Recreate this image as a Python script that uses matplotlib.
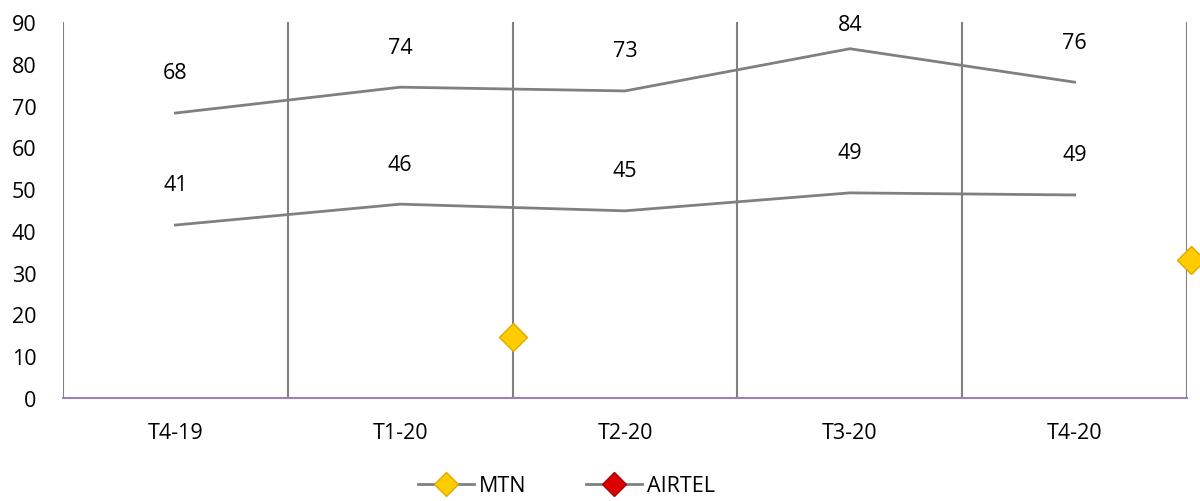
import numpy as np
import matplotlib.pyplot as plt
from matplotlib.lines import Line2D

plt.rcParams['font.family'] = ['Open Sans', 'DejaVu Sans']

quarters = ['T4-19', 'T1-20', 'T2-20', 'T3-20', 'T4-20']
mtn = [68.2, 74.4, 73.5, 83.6, 75.6]
airtel = [41.4, 46.4, 44.8, 49.1, 48.6]
mtn_labels = ['68', '74', '73', '84', '76']
airtel_labels = ['41', '46', '45', '49', '49']

# stray marker points of the MTN series
stray_x = [1.5, 4.52]
stray_y = [14.6, 33.0]

fig = plt.figure(figsize=(12, 5.02), dpi=100)
ax = fig.add_axes([63 / 1200, 103 / 502, 1124 / 1200, 376 / 502])

x = np.arange(len(quarters))
ax.plot(x, mtn, color='#808080', lw=2)
ax.plot(x, airtel, color='#808080', lw=2)

for xi, v, lab in zip(x, mtn, mtn_labels):
    ax.text(xi, min(v + 9.6, 89.5), lab, ha='center', va='center', fontsize=15.5)
for xi, v, lab in zip(x, airtel, airtel_labels):
    ax.text(xi, min(v + 9.6, 89.5), lab, ha='center', va='center', fontsize=15.5)

ax.plot(stray_x, stray_y, ls='none', marker='D', ms=14, mfc='#FFCC00',
        mec='#E0A800', mew=1, clip_on=False, zorder=5)

ax.set_xlim(-0.5, 4.5)
ax.set_ylim(0, 90)
ax.set_yticks(np.arange(0, 91, 10))
ax.set_xticks(x)
ax.set_xticklabels(quarters)
ax.tick_params(axis='both', length=0, labelsize=15.5)
ax.tick_params(axis='y', pad=19)
ax.tick_params(axis='x', pad=17)

for b in np.arange(-0.5, 4.6, 1):
    ax.axvline(b, color='#808080', lw=1.5, zorder=1)

for s in ['top', 'right', 'left']:
    ax.spines[s].set_visible(False)
ax.spines['bottom'].set_color('#9A80B8')
ax.spines['bottom'].set_linewidth(1.5)

handles = [
    Line2D([], [], color='#808080', lw=2, marker='D', ms=12, mfc='#FFCC00', mec='#E0A800'),
    Line2D([], [], color='#808080', lw=2, marker='D', ms=12, mfc='#DD0000', mec='#AA0000'),
]
fig.legend(handles, ['MTN', 'AIRTEL'], loc='center', bbox_to_anchor=(0.472, 0.03),
           ncol=2, frameon=False, fontsize=15.5, columnspacing=2.8, handlelength=2.6,
           handletextpad=0.2)

plt.savefig('out.png', dpi=100)
